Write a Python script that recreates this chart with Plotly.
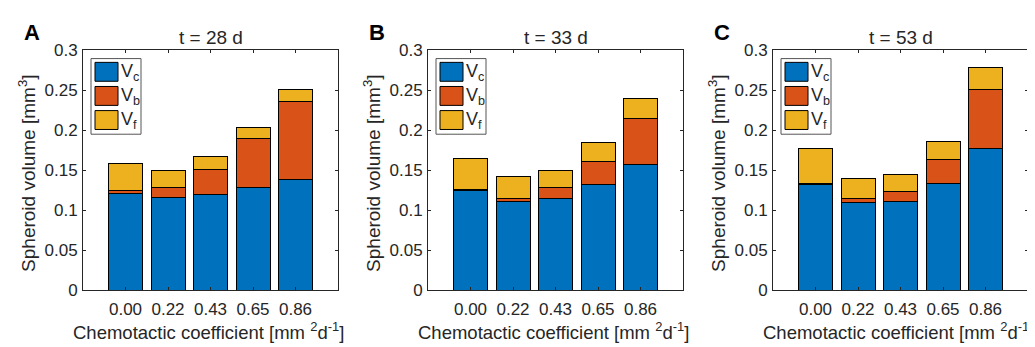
import plotly.graph_objects as go

# ---------------- data ----------------
categories = ["0.00", "0.22", "0.43", "0.65", "0.86"]
panel_titles = ["t = 28 d", "t = 33 d", "t = 53 d"]
panel_letters = ["A", "B", "C"]

vc_28 = [0.1214, 0.1163, 0.1194, 0.1281, 0.1380]
vb_28 = [0.0030, 0.0126, 0.0316, 0.0611, 0.0973]
vf_28 = [0.0343, 0.0209, 0.0161, 0.0142, 0.0150]

vc_33 = [0.1250, 0.1104, 0.1148, 0.1317, 0.1574]
vb_33 = [0.0005, 0.0047, 0.0130, 0.0296, 0.0577]
vf_33 = [0.0395, 0.0264, 0.0217, 0.0227, 0.0245]

vc_53 = [0.1325, 0.1097, 0.1104, 0.1330, 0.1776]
vb_53 = [0.0005, 0.0051, 0.0126, 0.0304, 0.0734]
vf_53 = [0.0446, 0.0252, 0.0215, 0.0224, 0.0270]

y_tickvals = [0, 0.05, 0.1, 0.15, 0.2, 0.25, 0.3]
y_ticktext = ["0", "0.05", "0.1", "0.15", "0.2", "0.25", "0.3"]

series_names = ["V<sub>c</sub>", "V<sub>b</sub>", "V<sub>f</sub>"]
series_colors = ["#0072BD", "#D95319", "#EDB120"]

panels = [
    [vc_28, vb_28, vf_28],
    [vc_33, vb_33, vf_33],
    [vc_53, vb_53, vf_53],
]

# ---------------- layout geometry (pixels) ----------------
W, H = 1035, 347
FONT = "Liberation Sans"
TXT = "#262626"
ax_left = [75, 420, 765]
ax_w = 255
ax_top, ax_bottom = 35, 289


def px(x):
    return x / W


def py(y):
    return 1 - y / H


fig = go.Figure()
shapes = []
annotations = []

for i, (series, title, letter) in enumerate(zip(panels, panel_titles, panel_letters)):
    xa = "x" if i == 0 else f"x{i+1}"
    ya = "y" if i == 0 else f"y{i+1}"
    x0, x1 = ax_left[i], ax_left[i] + ax_w
    for vals, name, col in zip(series, series_names, series_colors):
        fig.add_trace(go.Bar(
            x=categories, y=vals, name=name, xaxis=xa, yaxis=ya,
            marker=dict(color=col, line=dict(color="black", width=1)),
            width=0.8, showlegend=False,
        ))
    axkey = "" if i == 0 else str(i + 1)
    common = dict(
        showline=True, linecolor=TXT, linewidth=1, mirror="ticks",
        ticks="inside", ticklen=3, tickcolor=TXT, tickwidth=1,
        showgrid=False, zeroline=False,
        tickfont=dict(family=FONT, size=17, color=TXT),
    )
    fig.update_layout(**{
        f"xaxis{axkey}": dict(
            domain=[px(x0), px(x1)], anchor=ya,
            type="category", range=[-1, 5], ticklabelstandoff=3, **common,
        ),
        f"yaxis{axkey}": dict(
            domain=[py(ax_bottom), py(ax_top)], anchor=xa,
            range=[0, 0.3], tickvals=y_tickvals, ticktext=y_ticktext,
            ticklabelstandoff=1, **common,
        ),
    })
    cx = (x0 + x1) / 2
    # title
    annotations.append(dict(
        text=title, x=px(cx), y=py(ax_top), xref="paper", yref="paper",
        xanchor="center", yanchor="bottom", showarrow=False,
        font=dict(family=FONT, size=19, color=TXT),
    ))
    # panel letter
    annotations.append(dict(
        text=f"<b>{letter}</b>", x=px(x0 - 51), y=py(16), xref="paper", yref="paper",
        xanchor="center", yanchor="middle", showarrow=False,
        font=dict(family=FONT, size=22, color="black"),
    ))
    # x title
    annotations.append(dict(
        text="Chemotactic coefficient [mm <sup>2</sup>d<sup>-1</sup>]",
        x=px(cx - 2), y=py(332), xref="paper", yref="paper",
        xanchor="center", yanchor="middle", showarrow=False,
        font=dict(family=FONT, size=18.5, color=TXT),
    ))
    # y title
    annotations.append(dict(
        text="Spheroid volume [mm<sup>3</sup>]",
        x=px(x0 - 56), y=py(166), xref="paper", yref="paper",
        xanchor="center", yanchor="middle", showarrow=False, textangle=-90,
        font=dict(family=FONT, size=19, color=TXT),
    ))
    # custom legend (MATLAB-style big swatches)
    lx0 = x0 + 8
    lx1 = lx0 + 50
    shapes.append(dict(
        type="rect", xref="paper", yref="paper",
        x0=px(lx0), x1=px(lx1), y0=py(124), y1=py(44),
        line=dict(color="#555555", width=1), fillcolor="white", layer="above",
    ))
    for k, (name, col) in enumerate(zip(series_names, series_colors)):
        top = 48 + k * 25.5
        shapes.append(dict(
            type="rect", xref="paper", yref="paper",
            x0=px(lx0 + 4), x1=px(lx0 + 27), y0=py(top + 20), y1=py(top),
            line=dict(color="black", width=1), fillcolor=col, layer="above",
        ))
        annotations.append(dict(
            text=name, x=px(lx0 + 28), y=py(top + 11), xref="paper", yref="paper",
            xanchor="left", yanchor="middle", showarrow=False,
            font=dict(family=FONT, size=18, color=TXT),
        ))

fig.update_layout(
    width=W, height=H, barmode="stack",
    margin=dict(l=0, r=0, t=0, b=0),
    paper_bgcolor="white", plot_bgcolor="white",
    shapes=shapes, annotations=annotations,
    showlegend=False,
)

fig.write_html("out.html")
